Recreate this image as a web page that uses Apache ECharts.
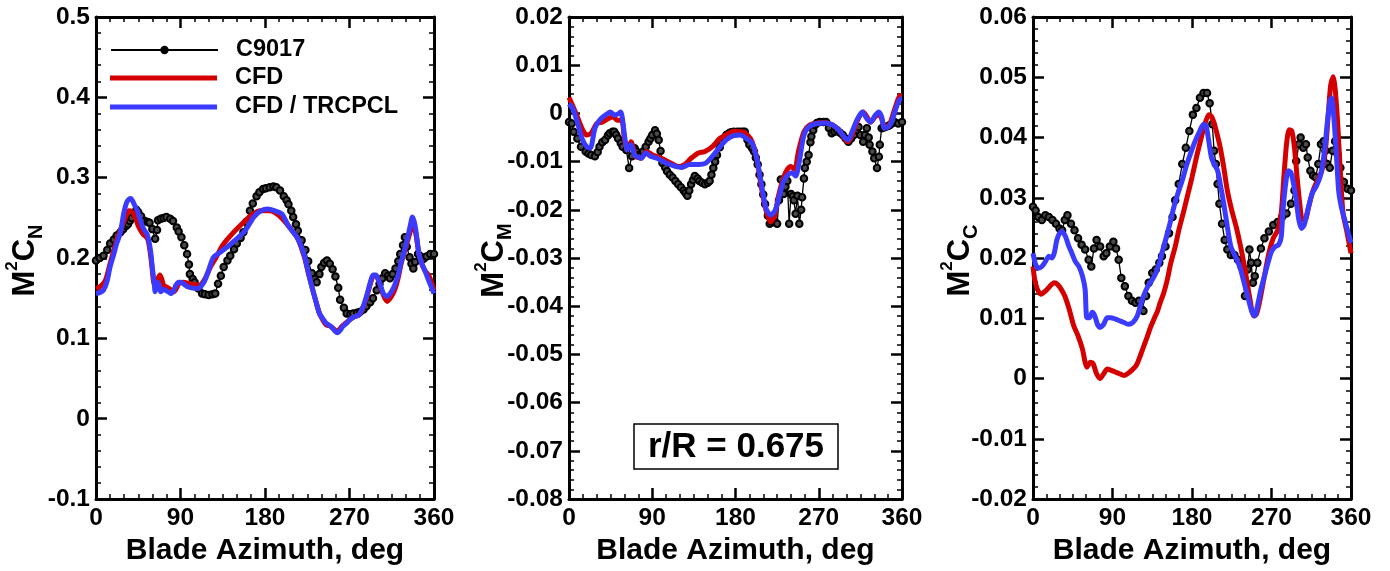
<!DOCTYPE html>
<html>
<head>
<meta charset="utf-8">
<script src="https://cdn.jsdelivr.net/npm/echarts@6/dist/echarts.min.js"></script>
<style>
html,body{margin:0;padding:0;background:#fff;}
#chart{width:1390px;height:571px;}
</style>
</head>
<body>
<div id="chart"></div>
<script>
// ---------- data (azimuth deg, value) ----------
const xTicks = [0, 90, 180, 270, 360];
const seriesNames = ['C9017', 'CFD', 'CFD / TRCPCL'];
const yNames = ['N', 'M', 'C'];

const CN_EXP = [[0,0.197],[4,0.2],[8,0.203],[12,0.21],[15,0.218],[19,0.223],[22,0.228],[26,0.232],[29,0.236],[32,0.24],[34,0.242],[36,0.246],[38,0.25],[41,0.255],[43,0.26],[45,0.257],[48,0.252],[52,0.246],[55,0.245],[57,0.244],[60,0.236],[63,0.224],[65,0.235],[66,0.247],[69,0.249],[72,0.25],[75,0.251],[79,0.249],[82,0.246],[86,0.238],[88,0.233],[91,0.226],[94,0.216],[97,0.205],[99,0.192],[100,0.18],[103,0.174],[105,0.17],[109,0.162],[113,0.156],[116,0.155],[120,0.154],[124,0.155],[127,0.156],[130,0.168],[133,0.178],[136,0.189],[140,0.197],[143,0.203],[147,0.211],[150,0.218],[154,0.225],[157,0.232],[160,0.245],[164,0.259],[167,0.268],[171,0.277],[174,0.282],[178,0.286],[181,0.287],[185,0.288],[189,0.289],[192,0.288],[196,0.284],[200,0.277],[203,0.272],[205,0.267],[208,0.259],[210,0.251],[213,0.242],[215,0.234],[219,0.222],[223,0.21],[226,0.196],[230,0.181],[233,0.174],[235,0.17],[238,0.18],[240,0.189],[243,0.194],[246,0.197],[249,0.193],[252,0.186],[255,0.177],[258,0.163],[260,0.148],[264,0.138],[267,0.131],[271,0.13],[274,0.131],[278,0.132],[281,0.133],[285,0.136],[288,0.14],[292,0.145],[295,0.15],[299,0.16],[302,0.168],[305,0.175],[308,0.181],[311,0.178],[313,0.175],[316,0.18],[319,0.187],[322,0.196],[324,0.205],[327,0.216],[329,0.226],[331,0.214],[334,0.201],[336,0.193],[338,0.187],[340,0.195],[343,0.205],[346,0.202],[349,0.199],[352,0.202],[356,0.205],[360,0.205]];
const CN_CFD = [[0,0.162],[5,0.165],[10,0.172],[15,0.193],[19,0.21],[22,0.222],[26,0.235],[30,0.246],[33,0.255],[35,0.259],[38,0.258],[40,0.255],[43,0.247],[45,0.24],[50,0.23],[55,0.224],[58,0.205],[60,0.185],[62,0.168],[65,0.172],[68,0.179],[70,0.174],[72,0.166],[75,0.164],[78,0.162],[83,0.158],[86,0.163],[88,0.168],[93,0.17],[100,0.168],[110,0.166],[116,0.174],[122,0.189],[128,0.201],[135,0.216],[145,0.23],[155,0.242],[165,0.253],[175,0.259],[185,0.259],[195,0.253],[205,0.24],[215,0.224],[222,0.201],[226,0.182],[230,0.164],[234,0.147],[238,0.131],[242,0.122],[245,0.117],[250,0.115],[253,0.112],[256,0.109],[259,0.111],[262,0.115],[266,0.119],[270,0.123],[275,0.127],[280,0.129],[284,0.137],[288,0.15],[292,0.167],[295,0.177],[298,0.178],[300,0.175],[303,0.165],[306,0.154],[310,0.146],[314,0.151],[318,0.16],[322,0.176],[325,0.193],[329,0.21],[332,0.222],[335,0.234],[337,0.242],[339,0.238],[341,0.228],[344,0.205],[347,0.193],[350,0.185],[355,0.177],[360,0.16]];
const CN_TRC = [[0,0.156],[4,0.157],[8,0.16],[12,0.172],[15,0.189],[19,0.205],[22,0.218],[25,0.228],[27,0.238],[29,0.252],[31,0.263],[33,0.27],[35,0.273],[37,0.274],[39,0.271],[41,0.266],[44,0.259],[47,0.248],[50,0.238],[53,0.232],[55,0.228],[58,0.21],[60,0.188],[62,0.168],[63,0.158],[65,0.166],[66,0.17],[68,0.163],[69,0.158],[72,0.161],[74,0.16],[77,0.158],[80,0.156],[83,0.16],[85,0.166],[88,0.17],[90,0.17],[98,0.164],[108,0.162],[115,0.17],[120,0.185],[125,0.201],[132,0.207],[142,0.216],[152,0.226],[160,0.236],[168,0.251],[176,0.259],[183,0.261],[190,0.259],[198,0.255],[205,0.24],[215,0.224],[222,0.203],[226,0.183],[230,0.164],[234,0.147],[238,0.131],[242,0.124],[245,0.119],[250,0.115],[254,0.11],[257,0.107],[260,0.11],[263,0.115],[267,0.119],[270,0.123],[275,0.127],[280,0.129],[284,0.138],[288,0.152],[292,0.169],[295,0.179],[298,0.179],[300,0.175],[303,0.166],[306,0.156],[310,0.152],[314,0.157],[318,0.166],[322,0.18],[325,0.195],[329,0.212],[332,0.226],[335,0.242],[337,0.251],[339,0.245],[341,0.232],[344,0.205],[347,0.193],[350,0.185],[355,0.17],[360,0.156]];

const CM_EXP = [[0,-0.0018],[3,-0.0021],[5,-0.0038],[9,-0.0052],[13,-0.0069],[18,-0.0079],[21,-0.0083],[24,-0.0086],[28,-0.0089],[31,-0.008],[33,-0.0069],[36,-0.006],[39,-0.0055],[42,-0.0046],[44,-0.0041],[47,-0.0038],[49,-0.0038],[51,-0.0044],[53,-0.0052],[56,-0.0062],[58,-0.0069],[62,-0.0076],[65,-0.0113],[68,-0.0089],[71,-0.0072],[73,-0.0079],[75,-0.0086],[78,-0.0084],[80,-0.0079],[83,-0.0069],[86,-0.0059],[88,-0.0052],[90,-0.0045],[93,-0.0035],[95,-0.0042],[97,-0.0055],[99,-0.0078],[101,-0.0103],[104,-0.0112],[106,-0.012],[109,-0.0127],[112,-0.0133],[115,-0.014],[118,-0.0147],[121,-0.0153],[124,-0.016],[126,-0.0165],[128,-0.0171],[130,-0.016],[132,-0.0147],[134,-0.0138],[136,-0.013],[139,-0.0135],[141,-0.014],[144,-0.0144],[147,-0.0147],[150,-0.0144],[152,-0.014],[154,-0.0127],[156,-0.0113],[158,-0.01],[160,-0.0086],[163,-0.007],[165,-0.0059],[168,-0.0051],[170,-0.0045],[173,-0.0041],[175,-0.0039],[178,-0.0038],[182,-0.0038],[185,-0.0038],[188,-0.0038],[190,-0.0038],[193,-0.0055],[195,-0.0065],[198,-0.0072],[200,-0.0079],[202,-0.0092],[204,-0.0106],[206,-0.0127],[208,-0.0147],[210,-0.0168],[212,-0.0188],[215,-0.0212],[217,-0.0229],[219,-0.0225],[221,-0.0222],[223,-0.0226],[225,-0.0229],[227,-0.018],[229,-0.0137],[231,-0.016],[232,-0.0167],[234,-0.0152],[236,-0.014],[238,-0.0229],[240,-0.0167],[242,-0.0172],[243,-0.018],[245,-0.0208],[247,-0.0171],[249,-0.0229],[251,-0.02],[252,-0.0174],[254,-0.0135],[255,-0.0113],[257,-0.01],[259,-0.0086],[261,-0.006],[262,-0.0048],[264,-0.0035],[266,-0.0024],[268,-0.002],[271,-0.0018],[275,-0.0018],[278,-0.0018],[281,-0.003],[284,-0.0041],[287,-0.0038],[290,-0.0035],[293,-0.004],[296,-0.0045],[299,-0.0052],[302,-0.0059],[305,-0.0052],[308,-0.0045],[311,-0.0035],[313,-0.0028],[315,-0.0045],[318,-0.0059],[320,-0.0045],[322,-0.0031],[324,-0.005],[325,-0.0065],[328,-0.0079],[330,-0.0093],[333,-0.0113],[335,-0.009],[336,-0.0065],[338,-0.0031],[340,-0.0029],[342,-0.0028],[345,-0.0026],[347,-0.0024],[350,-0.002],[352,-0.0018],[356,-0.0021],[360,-0.0018]];
const CM_CFD = [[0,0.0033],[4,0.0016],[9,-0.0007],[14,-0.0031],[19,-0.0045],[24,-0.0041],[30,-0.0021],[36,-0.0018],[42,-0.0011],[48,-0.0007],[52,-0.0014],[57,-0.0014],[60,-0.0055],[63,-0.0076],[67,-0.0059],[72,-0.0089],[78,-0.0093],[84,-0.0079],[90,-0.0086],[100,-0.0093],[110,-0.0103],[118,-0.011],[125,-0.0106],[132,-0.0093],[140,-0.0082],[147,-0.0079],[155,-0.0069],[163,-0.0052],[170,-0.0044],[178,-0.0037],[187,-0.0038],[193,-0.0045],[198,-0.0059],[203,-0.0093],[208,-0.0154],[213,-0.0201],[218,-0.0225],[222,-0.0214],[227,-0.0167],[232,-0.0133],[236,-0.0116],[240,-0.011],[244,-0.0116],[248,-0.0079],[254,-0.0038],[260,-0.0024],[268,-0.002],[276,-0.0019],[285,-0.0024],[292,-0.0035],[299,-0.0055],[302,-0.0059],[306,-0.0045],[312,-0.0014],[318,0.0003],[322,-0.0007],[326,-0.0018],[331,-0.0007],[335,-0.0001],[338,-0.0011],[341,-0.0028],[346,-0.0024],[350,-0.0004],[354,0.002],[358,0.0037],[360,0.0037]];
const CM_TRC = [[0,0.002],[4,0.001],[9,-0.0018],[14,-0.0052],[19,-0.0069],[23,-0.0072],[28,-0.0031],[33,-0.0014],[39,-0.0004],[45,0.0003],[49,-0.0004],[53,-0.0001],[56,0.0003],[60,-0.0045],[63,-0.0076],[67,-0.0065],[71,-0.0086],[78,-0.0093],[83,-0.0082],[88,-0.0089],[95,-0.0093],[105,-0.0103],[115,-0.011],[122,-0.0112],[130,-0.0106],[140,-0.0106],[148,-0.0103],[155,-0.0089],[162,-0.0072],[170,-0.0055],[178,-0.0046],[185,-0.0045],[192,-0.0052],[198,-0.0062],[203,-0.0093],[208,-0.0147],[213,-0.0197],[218,-0.0211],[223,-0.0201],[228,-0.0167],[232,-0.014],[237,-0.0127],[241,-0.0123],[245,-0.013],[249,-0.0099],[254,-0.0045],[260,-0.0027],[268,-0.0021],[276,-0.002],[285,-0.0024],[292,-0.0035],[299,-0.0052],[302,-0.0055],[306,-0.0038],[312,-0.0011],[317,0.0003],[322,-0.0011],[326,-0.0018],[331,-0.0004],[335,0.0003],[338,-0.0007],[341,-0.0031],[346,-0.0027],[350,-0.0011],[354,0.0013],[358,0.003],[360,0.003]];

const CC_EXP = [[0,0.0285],[3,0.0279],[6,0.0268],[10,0.0263],[14,0.0271],[18,0.0268],[22,0.0263],[26,0.0257],[30,0.0249],[33,0.0246],[36,0.0263],[39,0.0271],[43,0.0257],[47,0.0246],[51,0.0233],[55,0.0222],[59,0.0214],[63,0.0197],[66,0.0186],[69,0.0216],[72,0.023],[76,0.0219],[80,0.0203],[83,0.0208],[87,0.0219],[91,0.0227],[94,0.0216],[97,0.0197],[100,0.0167],[104,0.0153],[108,0.0137],[112,0.0129],[116,0.0126],[120,0.0129],[123,0.0115],[125,0.0112],[128,0.0137],[131,0.0159],[135,0.0175],[139,0.0181],[143,0.0192],[146,0.0203],[150,0.0219],[154,0.0241],[158,0.0268],[161,0.0296],[165,0.0323],[169,0.0356],[173,0.0383],[177,0.0411],[181,0.0438],[185,0.0449],[189,0.0466],[193,0.0474],[197,0.0474],[200,0.0457],[203,0.0422],[205,0.0378],[207,0.0356],[209,0.0323],[211,0.029],[214,0.0257],[217,0.023],[220,0.0214],[224,0.0205],[228,0.0205],[232,0.0197],[236,0.0186],[240,0.0137],[243,0.0181],[245,0.0214],[247,0.0192],[249,0.0159],[251,0.017],[254,0.0192],[258,0.0216],[262,0.0233],[267,0.0244],[272,0.0255],[277,0.026],[282,0.0268],[287,0.0274],[292,0.029],[296,0.0312],[298,0.0361],[301,0.0389],[303,0.04],[306,0.0383],[309,0.0389],[311,0.0367],[314,0.0345],[317,0.0337],[320,0.0334],[323,0.0356],[326,0.0389],[329,0.0394],[331,0.0378],[333,0.0356],[336,0.035],[339,0.0378],[342,0.0394],[345,0.0372],[348,0.035],[352,0.0326],[356,0.0315],[360,0.0312]];
const CC_CFD = [[0,0.0186],[2,0.0164],[5,0.0148],[9,0.014],[14,0.0145],[19,0.0153],[24,0.0159],[28,0.0156],[32,0.0148],[36,0.0137],[41,0.0115],[46,0.0088],[51,0.0071],[56,0.0049],[59,0.0027],[61,0.0019],[65,0.0027],[68,0.0025],[72,0.0008],[76,0.0],[80,0.0008],[84,0.0016],[88,0.0014],[93,0.0011],[98,0.0008],[103,0.0005],[107,0.0008],[112,0.0014],[117,0.0022],[121,0.0036],[125,0.0052],[129,0.0068],[133,0.0085],[137,0.0099],[141,0.0112],[144,0.0126],[148,0.0142],[152,0.0164],[156,0.0192],[161,0.0219],[165,0.0246],[170,0.0274],[175,0.0304],[180,0.0334],[185,0.0367],[190,0.0397],[195,0.0424],[199,0.0438],[202,0.0435],[205,0.0424],[208,0.0408],[212,0.0383],[216,0.035],[220,0.0312],[225,0.0279],[230,0.0252],[235,0.0219],[240,0.0181],[245,0.0137],[250,0.0104],[253,0.0107],[257,0.0131],[262,0.017],[267,0.0208],[272,0.0233],[277,0.0246],[281,0.0274],[284,0.0334],[287,0.0389],[290,0.0413],[293,0.0411],[296,0.0383],[299,0.0334],[302,0.029],[305,0.0263],[308,0.0263],[312,0.0285],[317,0.0312],[322,0.0329],[327,0.0345],[331,0.0378],[334,0.0433],[337,0.0487],[340,0.0501],[342,0.0482],[345,0.0422],[348,0.034],[351,0.0274],[355,0.0246],[360,0.0208]];
const CC_TRC = [[0,0.0208],[3,0.0189],[6,0.0183],[10,0.0186],[14,0.0194],[18,0.0203],[21,0.02],[24,0.0208],[27,0.023],[30,0.0241],[33,0.0244],[37,0.0235],[40,0.0222],[44,0.0208],[48,0.0194],[52,0.0186],[56,0.017],[59,0.0148],[60,0.0115],[61,0.0101],[64,0.0101],[67,0.011],[70,0.0104],[73,0.009],[76,0.0085],[80,0.009],[84,0.0101],[88,0.0101],[93,0.0099],[98,0.0096],[103,0.0093],[108,0.009],[113,0.0093],[118,0.0104],[122,0.0123],[126,0.014],[130,0.0153],[135,0.0164],[139,0.0175],[143,0.0192],[147,0.0214],[151,0.0235],[155,0.0257],[159,0.0282],[164,0.0307],[169,0.0329],[173,0.035],[178,0.0372],[183,0.0392],[188,0.0408],[193,0.0422],[196,0.0419],[199,0.0394],[202,0.0367],[205,0.0356],[209,0.0345],[212,0.0323],[216,0.029],[220,0.0252],[224,0.0219],[229,0.0203],[234,0.0186],[239,0.0159],[244,0.0131],[248,0.011],[251,0.0104],[254,0.012],[258,0.0148],[262,0.017],[266,0.0192],[270,0.0211],[274,0.0219],[278,0.0222],[281,0.0235],[283,0.0279],[286,0.0323],[289,0.0345],[292,0.0342],[295,0.0323],[298,0.0296],[301,0.0263],[304,0.0249],[307,0.0255],[311,0.0279],[316,0.0307],[321,0.032],[326,0.034],[330,0.0378],[333,0.0422],[336,0.046],[338,0.0466],[340,0.0444],[343,0.0383],[346,0.0312],[349,0.0285],[353,0.0263],[357,0.0241],[360,0.0225]];

const Y_RANGES = [[-0.1, 0.5, 0.1], [-0.08, 0.02, 0.01], [-0.02, 0.06, 0.01]];
const PANEL_DATA = [[CN_EXP, CN_CFD, CN_TRC], [CM_EXP, CM_CFD, CM_TRC], [CC_EXP, CC_CFD, CC_TRC]];

// ---------- layout / style ----------
const FONT = '"Liberation Sans", Arial, Helvetica, sans-serif';
const GRIDS = [
  {left: 96, top: 17, width: 338, height: 487},
  {left: 569, top: 17, width: 333, height: 487},
  {left: 1033, top: 17, width: 318, height: 487}
];
const NAME_X = [25, 494, 960];
const RED = '#d40000', BLUE = '#3b3bff';

const lineAx = {show: true, onZero: false, lineStyle: {color: '#000', width: 3}};
const tickAx = {show: true, inside: true, length: 11, lineStyle: {color: '#000', width: 2.5}};
function minor(n) { return {show: true, splitNumber: n, length: 5, lineStyle: {color: '#000', width: 1.5}}; }
const lblStyle = {fontSize: 24.5, fontWeight: 'bold', color: '#000', fontFamily: FONT};

const xAxis = [], yAxis = [], series = [], graphic = [];
GRIDS.forEach((g, i) => {
  const [ymin, ymax, yint] = Y_RANGES[i];
  xAxis.push({
    type: 'value', gridIndex: i, position: 'bottom', min: xTicks[0], max: xTicks[xTicks.length - 1], interval: 90,
    axisLine: lineAx, axisTick: tickAx, minorTick: minor(6), splitLine: {show: false},
    axisLabel: Object.assign({margin: 7}, lblStyle),
    name: 'Blade Azimuth, deg', nameLocation: 'middle', nameGap: 32,
    nameTextStyle: {fontSize: 30, fontWeight: 'bold', color: '#000', fontFamily: FONT}
  });
  xAxis.push({
    type: 'value', gridIndex: i, position: 'top', min: 0, max: 360, interval: 90,
    axisLine: lineAx, axisTick: tickAx, minorTick: minor(6), splitLine: {show: false},
    axisLabel: {show: false}
  });
  yAxis.push({
    type: 'value', gridIndex: i, position: 'left', min: ymin, max: ymax, interval: yint,
    axisLine: lineAx, axisTick: tickAx, minorTick: minor(5), splitLine: {show: false},
    axisLabel: Object.assign({margin: 6, formatter: v => String(+v.toFixed(3))}, lblStyle)
  });
  yAxis.push({
    type: 'value', gridIndex: i, position: 'right', min: ymin, max: ymax, interval: yint,
    axisLine: lineAx, axisTick: tickAx, minorTick: minor(5), splitLine: {show: false},
    axisLabel: {show: false}
  });
  const [exp, cfd, trc] = PANEL_DATA[i];
  series.push({
    type: 'line', name: seriesNames[0], xAxisIndex: 2 * i, yAxisIndex: 2 * i, data: exp,
    symbol: 'circle', symbolSize: 6.5, showAllSymbol: true,
    lineStyle: {color: '#000', width: 1.3}, itemStyle: {color: '#4a4a4a', borderColor: '#000', borderWidth: 2},
    z: 2, silent: true, emphasis: {disabled: true}
  });
  series.push({
    type: 'line', name: seriesNames[1], xAxisIndex: 2 * i, yAxisIndex: 2 * i, data: cfd,
    symbol: 'none', smooth: 0.25, lineStyle: {color: RED, width: 5}, itemStyle: {color: RED},
    z: 3, silent: true, emphasis: {disabled: true}
  });
  series.push({
    type: 'line', name: seriesNames[2], xAxisIndex: 2 * i, yAxisIndex: 2 * i, data: trc,
    symbol: 'none', smooth: 0.25, lineStyle: {color: BLUE, width: 5}, itemStyle: {color: BLUE},
    z: 4, silent: true, emphasis: {disabled: true}
  });
  graphic.push({
    type: 'text', x: NAME_X[i], y: g.top + g.height / 2, rotation: Math.PI / 2,
    style: {
      text: '{m|M}{s|2}{m|C}{b|' + yNames[i] + '}',
      align: 'center', verticalAlign: 'middle',
      rich: {
        m: {fontSize: 31, fontWeight: 'bold', fontFamily: FONT, fill: '#000', lineHeight: 42, verticalAlign: 'middle'},
        s: {fontSize: 17, fontWeight: 'bold', fontFamily: FONT, fill: '#000', lineHeight: 11, verticalAlign: 'top'},
        b: {fontSize: 20, fontWeight: 'bold', fontFamily: FONT, fill: '#000', lineHeight: 10, verticalAlign: 'bottom'}
      }
    }
  });
});

// r/R label box
graphic.push({
  type: 'rect', shape: {x: 634, y: 424, width: 204, height: 45},
  style: {fill: '#fff', stroke: '#000', lineWidth: 1.5}, z: 10
});
graphic.push({
  type: 'text', x: 736, y: 447, z: 11,
  style: {text: 'r/R = 0.675', align: 'center', verticalAlign: 'middle',
          font: 'bold 35px ' + FONT, fill: '#000'}
});

const legTxt = {fontSize: 23.5, fontWeight: 'bold', color: '#000', fontFamily: FONT, lineHeight: 24, padding: [0, 0, 0, 13]};
const legend = [
  {data: [{name: seriesNames[0], itemStyle: {color: '#000', borderColor: '#000'}}], left: 110, top: 38,
   itemWidth: 107, itemHeight: 8, padding: 0, selectedMode: false, textStyle: legTxt},
  {data: [{name: seriesNames[1], icon: 'rect'}], left: 110, top: 66,
   itemWidth: 107, itemHeight: 5, padding: 0, selectedMode: false, itemStyle: {borderWidth: 0}, textStyle: legTxt},
  {data: [{name: seriesNames[2], icon: 'rect'}], left: 110, top: 95,
   itemWidth: 107, itemHeight: 5, padding: 0, selectedMode: false, itemStyle: {borderWidth: 0}, textStyle: legTxt}
];

const chart = echarts.init(document.getElementById('chart'), null, {renderer: 'canvas'});
chart.setOption({
  animation: false,
  backgroundColor: '#fff',
  grid: GRIDS,
  xAxis: xAxis,
  yAxis: yAxis,
  legend: legend,
  series: series,
  graphic: graphic
});
</script>
</body>
</html>
